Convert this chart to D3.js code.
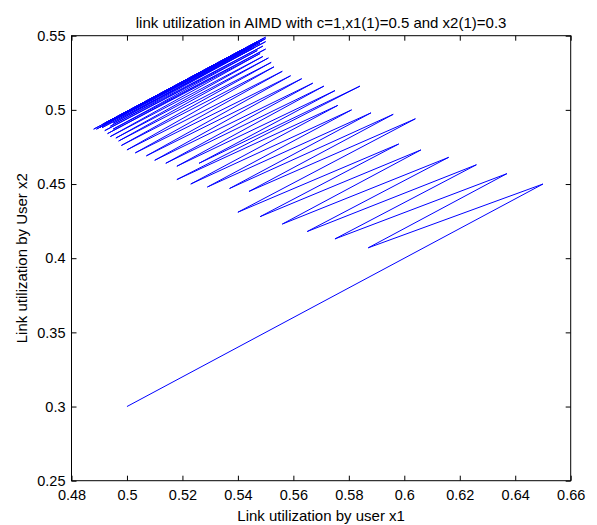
<!DOCTYPE html>
<html><head><meta charset="utf-8">
<script src="https://cdn.jsdelivr.net/npm/d3@7"></script>
<style>body{margin:0;background:#fff;}svg{display:block;}text{font-family:Arial,"Liberation Sans",sans-serif;}</style>
</head><body>
<script>
const titleText = "link utilization in AIMD with c=1,x1(1)=0.5 and x2(1)=0.3";
const xLabel = "Link utilization by user x1";
const yLabel = "Link utilization by User x2";
const xTicks = [0.48,0.5,0.52,0.54,0.56,0.58,0.6,0.62,0.64,0.66];
const yTicks = [0.25,0.3,0.35,0.4,0.45,0.5,0.55];
// zigzag vertices: start, then peak / trough alternating
const x1 = [0.500,
  0.650,0.587, 0.637,0.575, 0.626,0.565, 0.616,0.556, 0.606,0.548, 0.598,0.540,
  0.604,0.544, 0.596,0.537, 0.588,0.529, 0.581,0.523, 0.576,0.518, 0.584,0.526,
  0.575,0.518, 0.571,0.514, 0.567,0.510, 0.563,0.507, 0.559,0.503, 0.556,0.500,
  0.553,0.498, 0.552,0.497, 0.551,0.496, 0.549,0.494, 0.548,0.493, 0.550,0.495,
  0.547,0.492, 0.549,0.494, 0.546,0.491, 0.550,0.495, 0.545,0.490, 0.548,0.493,
  0.550,0.495, 0.544,0.490, 0.547,0.492, 0.549,0.494, 0.543,0.489, 0.546,0.491,
  0.550,0.495, 0.542,0.488, 0.547,0.492, 0.549];
const x2 = [0.300,
  0.450,0.407, 0.457,0.413, 0.463,0.418, 0.468,0.423, 0.473,0.428, 0.477,0.431,
  0.494,0.445, 0.497,0.447, 0.498,0.448, 0.500,0.450, 0.503,0.453, 0.516,0.464,
  0.513,0.462, 0.516,0.464, 0.518,0.466, 0.521,0.469, 0.523,0.471, 0.526,0.473,
  0.529,0.476, 0.532,0.479, 0.535,0.481, 0.536,0.482, 0.538,0.484, 0.541,0.487,
  0.540,0.486, 0.543,0.489, 0.542,0.488, 0.546,0.491, 0.542,0.488, 0.545,0.491,
  0.548,0.493, 0.542,0.488, 0.545,0.491, 0.547,0.492, 0.541,0.487, 0.544,0.490,
  0.549,0.494, 0.541,0.487, 0.546,0.491, 0.548];

const W=597,H=525;
const m={l:71.5,r:570.7,t:35.7,b:480.7};
const svg=d3.select("body").append("svg").attr("width",W).attr("height",H);
const x=d3.scaleLinear().domain([0.48,0.66]).range([m.l,m.r]);
const y=d3.scaleLinear().domain([0.25,0.55]).range([m.b,m.t]);
const pts=x1.map((v,i)=>[v,x2[i]]);

svg.append("path").datum(pts)
  .attr("fill","none").attr("stroke","#0000ff").attr("stroke-width",1)
  .attr("d",d3.line().x(d=>x(d[0])).y(d=>y(d[1])));

const fmt=d=>String(+d.toFixed(2));
const tl=5, fs="14.5px";
svg.append("g").attr("transform",`translate(0,${m.b})`)
  .call(d3.axisBottom(x).tickValues(xTicks).tickFormat(fmt).tickSizeInner(-tl).tickSizeOuter(0).tickPadding(9))
  .call(g=>{g.select(".domain").remove();g.selectAll("line").attr("stroke","#000");g.selectAll("text").attr("font-size",fs).attr("font-family","Arial, 'Liberation Sans', sans-serif").attr("fill","#000");});
svg.append("g").attr("transform",`translate(0,${m.t})`)
  .call(d3.axisTop(x).tickValues(xTicks).tickFormat("").tickSizeInner(-tl).tickSizeOuter(0))
  .call(g=>{g.select(".domain").remove();g.selectAll("line").attr("stroke","#000");});
svg.append("g").attr("transform",`translate(${m.l},0)`)
  .call(d3.axisLeft(y).tickValues(yTicks).tickFormat(fmt).tickSizeInner(-tl).tickSizeOuter(0).tickPadding(6))
  .call(g=>{g.select(".domain").remove();g.selectAll("line").attr("stroke","#000");g.selectAll("text").attr("font-size",fs).attr("font-family","Arial, 'Liberation Sans', sans-serif").attr("fill","#000");});
svg.append("g").attr("transform",`translate(${m.r},0)`)
  .call(d3.axisRight(y).tickValues(yTicks).tickFormat("").tickSizeInner(-tl).tickSizeOuter(0))
  .call(g=>{g.select(".domain").remove();g.selectAll("line").attr("stroke","#000");});
svg.append("rect").attr("x",m.l).attr("y",m.t).attr("width",m.r-m.l).attr("height",m.b-m.t)
  .attr("fill","none").attr("stroke","#000").attr("stroke-width",1);

svg.append("text").attr("x",(m.l+m.r)/2).attr("y",28).attr("text-anchor","middle").attr("font-size","15px").text(titleText);
svg.append("text").attr("x",(m.l+m.r)/2).attr("y",521).attr("text-anchor","middle").attr("font-size","15px").text(xLabel);
svg.append("text").attr("transform",`translate(27,${(m.t+m.b)/2}) rotate(-90)`).attr("text-anchor","middle").attr("font-size","15px").text(yLabel);
</script>
</body></html>
